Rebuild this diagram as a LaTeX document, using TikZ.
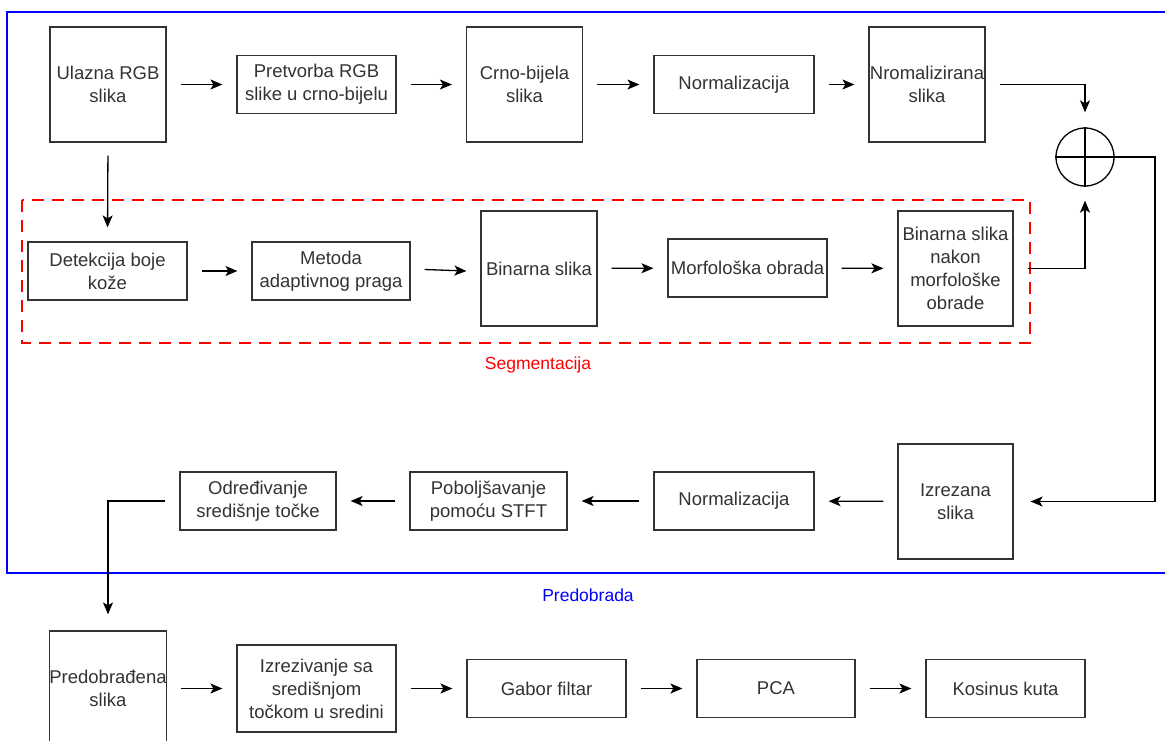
\documentclass[tikz,border=0pt]{standalone}
\usepackage{fontspec}
\setmainfont{Liberation Sans}
\usetikzlibrary{arrows.meta,calc}
\definecolor{txt}{HTML}{333333}
\definecolor{boxline}{HTML}{333333}
\definecolor{segred}{HTML}{FF0000}
\definecolor{preblue}{HTML}{0000FF}
\tikzset{
  blk/.style={draw=boxline, line width=1.2pt, fill=white, align=center, text=txt, inner sep=0pt,
              font=\fontsize{18.5}{23}\selectfont},
  sq/.style={blk, minimum width=116pt, minimum height=115pt},
  wide/.style={blk, minimum width=159pt, minimum height=58pt},
  conn/.style={draw=black, line width=1.3pt, -{Stealth[length=12pt,width=10pt,inset=3pt]},
               shorten <=14pt, shorten >=14pt},
  lbl/.style={font=\fontsize{17.5}{21}\selectfont, inner sep=0pt}
}
\begin{document}
\begin{tikzpicture}[x=1pt,y=-1pt]
\useasboundingbox (0,0) rectangle (1165,740);
\clip (0,0) rectangle (1165,740);
\fill[white] (0,0) rectangle (1165,740);

% group frames
\draw[preblue, line width=1.2pt] (7,12) rectangle (1180,573);
\draw[segred, line width=1.3pt, dash pattern=on 12pt off 8pt] (22,200) rectangle (1030,343);
\node[lbl, text=segred] (seglbl) at (538,365) {Segmentacija};
\node[lbl, text=preblue] (prelbl) at (588,595) {Predobrada};

% row 1
\node[sq] (in) at (108,84.5) {Ulazna RGB\\slika};
\node[wide] (pret) at (316.5,84.5) {Pretvorba RGB\\slike u crno-bijelu};
\node[sq] (crno) at (524.5,84.5) {Crno-bijela\\slika};
\node[wide, minimum width=160pt] (normA) at (734,84.5) {Normalizacija};
\node[sq] (nrom) at (927,84.5) {Nromalizirana\\slika};
\node[draw=black, line width=1.3pt, circle, minimum size=58pt, inner sep=0pt] (sum) at (1085,157) {};
\draw[line width=1.3pt] (sum.north) -- (sum.south) (sum.west) -- (sum.east);

% row 2
\node[wide] (det) at (107.5,271) {Detekcija boje\\kože};
\node[wide, minimum width=158pt] (met) at (331,271) {Metoda\\adaptivnog praga};
\node[sq] (bin) at (539,268.5) {Binarna slika};
\node[wide] (morf) at (747.5,268) {Morfološka obrada};
\node[sq, minimum width=115pt] (bnak) at (955.5,268.5) {Binarna slika\\nakon\\morfološke\\obrade};

% row 3
\node[sq, minimum width=115pt] (izr) at (955.5,501.5) {Izrezana\\slika};
\node[wide, minimum width=160pt] (normB) at (734,501) {Normalizacija};
\node[wide, minimum width=157pt] (pob) at (488.5,501) {Poboljšavanje\\pomoću STFT};
\node[wide, minimum width=156pt] (odr) at (258,501) {Određivanje\\središnje točke};

% row 4
\node[sq] (pred) at (108,688.5) {Predobrađena\\slika};
\node[wide, minimum height=87pt] (izv) at (316.5,688.5) {Izrezivanje sa\\središnjom\\točkom u sredini};
\node[wide] (gab) at (546.5,688.5) {Gabor filtar};
\node[wide, minimum width=158pt] (pca) at (776,688.5) {PCA};
\node[wide] (kos) at (1005.5,688.5) {Kosinus kuta};

% connectors row 1
\draw[conn] (in) -- (pret);
\draw[conn] (pret) -- (crno);
\draw[conn] (crno) -- (normA);
\draw[conn] (normA) -- (nrom);
\draw[conn, shorten >=15pt] (nrom.east) -| (sum.north);

% down to segmentation
\draw[conn, shorten <=13pt] (in.south) -- (det.north);

% connectors row 2
\draw[conn] (det) -- (met);
\draw[conn] ($(met.east)+(0,-2)$) -- ($(bin.west)+(0,3)$);
\draw[conn] (bin) -- (morf);
\draw[conn] (morf) -- (bnak);
\draw[conn] (bnak.east) -| (sum.south);

% sum to cropped image
\coordinate (turn) at (1155,157);
\draw[conn, shorten <=0pt, shorten >=17pt] (sum.east) -- (turn) |- (izr.east);

% connectors row 3
\draw[conn] (izr) -- (normB);
\draw[conn] (normB) -- (pob);
\draw[conn] (pob) -- (odr);
\draw[conn, shorten >=16pt] (odr.west) -| (pred.north);

% connectors row 4
\draw[conn] (pred) -- (izv);
\draw[conn] (izv) -- (gab);
\draw[conn] (gab) -- (pca);
\draw[conn] (pca) -- (kos);
\end{tikzpicture}
\end{document}
